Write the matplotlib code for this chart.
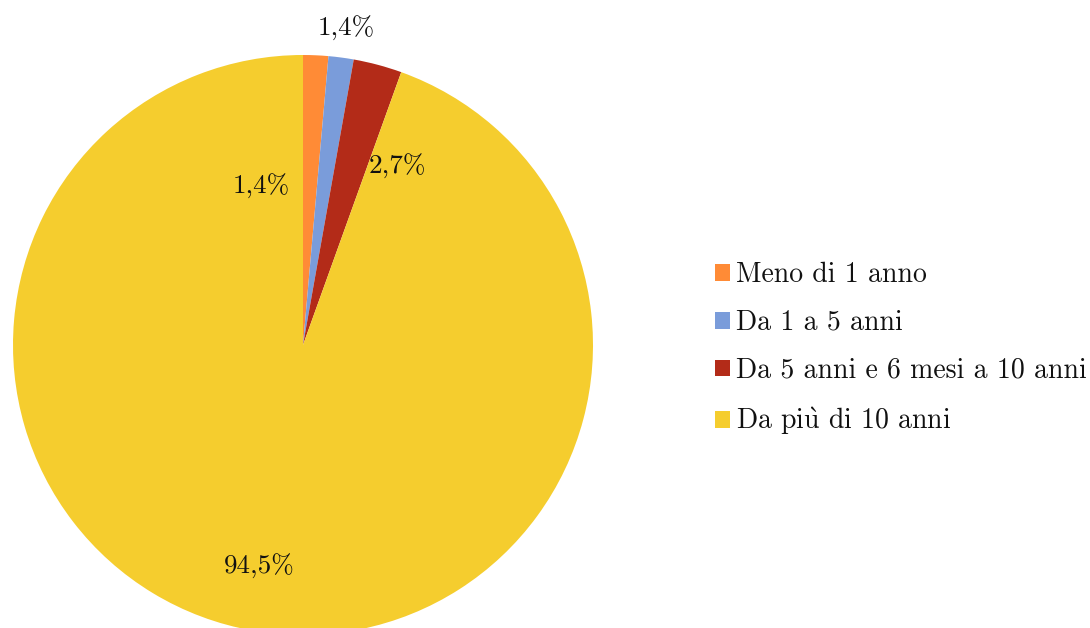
import matplotlib
matplotlib.use("Agg")
import matplotlib.pyplot as plt
from matplotlib.patches import Patch

categories = ["Meno di 1 anno", "Da 1 a 5 anni", "Da 5 anni e 6 mesi a 10 anni",
              r"Da pi$\mathrm{\grave{u}}$ di 10 anni"]
values = [1.4, 1.4, 2.7, 94.5]
labels = ["1,4%", "1,4%", "2,7%", "94,5%"]
colors = ["#FF8B36", "#7A9CDA", "#B32B18", "#F5CD2E"]
# label positions in pie-radius units (relative to pie centre)
label_pos = [(0.15, 1.09), (-0.145, 0.545), (0.325, 0.615), (-0.15, -0.765)]

FONT = ["cmr10", "DejaVu Serif"]
plt.rcParams["font.family"] = FONT
plt.rcParams["mathtext.fontset"] = "cm"
plt.rcParams["axes.unicode_minus"] = False

fig = plt.figure(figsize=(10.9, 6.28), dpi=100)
R = 290.0
cx, cy = 303.0, 345.0
W, H = 1090.0, 628.0
ax = fig.add_axes([(cx - R) / W, (H - cy - R) / H, 2 * R / W, 2 * R / H])
wedges, _ = ax.pie(values, colors=colors, startangle=90, counterclock=False,
                   radius=1.0, wedgeprops=dict(linewidth=0))
ax.set_xlim(-1, 1)
ax.set_ylim(-1, 1)
ax.set_aspect("equal")
ax.axis("off")
for s, (x, y) in zip(labels, label_pos):
    ax.text(x, y, s, ha="center", va="center", fontsize=19.5, color="#111111",
            family=FONT, clip_on=False)

handles = [Patch(facecolor=c, edgecolor="none") for c in colors]
leg = fig.legend(handles, categories, loc="center left",
                 bbox_to_anchor=(715 / W, 1 - 349.5 / H), frameon=False,
                 fontsize=20, handlelength=0.55, handleheight=0.55,
                 handletextpad=0.2, labelspacing=0.77, borderaxespad=0,
                 borderpad=0)
for t in leg.get_texts():
    t.set_family(FONT)
    t.set_color("#111111")

fig.savefig("out.png", dpi=100)
